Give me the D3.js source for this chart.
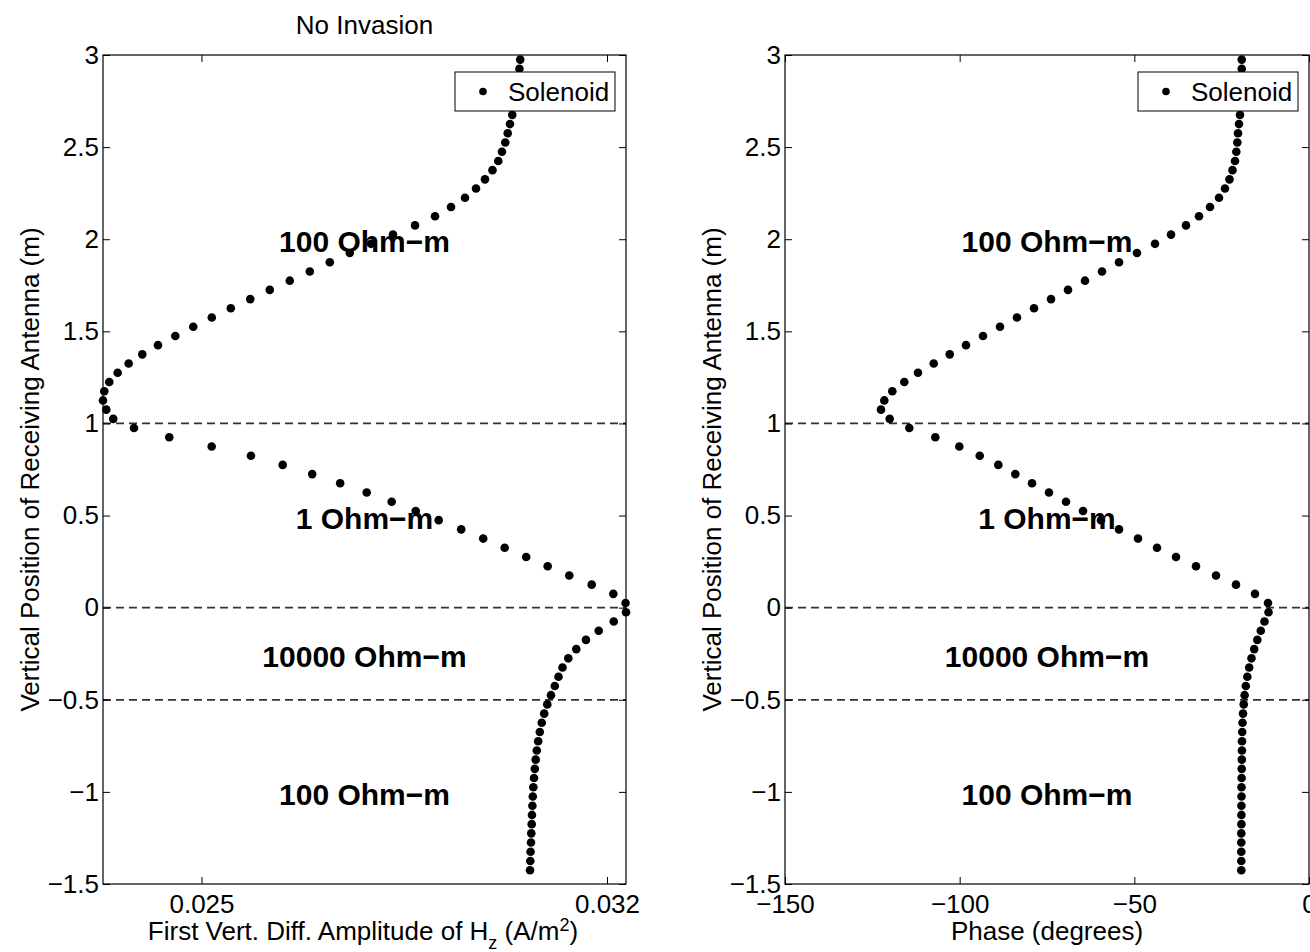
<!DOCTYPE html>
<html>
<head>
<meta charset="utf-8">
<script src="https://cdn.jsdelivr.net/npm/d3@7"></script>
<style>
    body { margin: 0; background: #fff; }
    text { font-family: "Liberation Sans", Arial, Helvetica, sans-serif; }
</style>
</head>
<body>
<svg width="1310" height="952"></svg>
<script>
"use strict";

// receiver positions (m), same for both panels
var position = [
    -1.425, -1.375, -1.325, -1.275, -1.225, -1.175, -1.125, -1.075, -1.025, -0.975,
    -0.925, -0.875, -0.825, -0.775, -0.725, -0.675, -0.625, -0.575, -0.525, -0.475,
    -0.425, -0.375, -0.325, -0.275, -0.225, -0.175, -0.125, -0.075, -0.025, 0.025,
    0.075, 0.125, 0.175, 0.225, 0.275, 0.325, 0.375, 0.425, 0.475, 0.525,
    0.575, 0.625, 0.675, 0.725, 0.775, 0.825, 0.875, 0.925, 0.975, 1.025,
    1.075, 1.125, 1.175, 1.225, 1.275, 1.325, 1.375, 1.425, 1.475, 1.525,
    1.575, 1.625, 1.675, 1.725, 1.775, 1.825, 1.875, 1.925, 1.975, 2.025,
    2.075, 2.125, 2.175, 2.225, 2.275, 2.325, 2.375, 2.425, 2.475, 2.525,
    2.575, 2.625, 2.675, 2.725, 2.775, 2.825, 2.875, 2.925, 2.975
];

// first vertical difference amplitude of Hz (A/m^2)
var amplitude = [
    0.030671, 0.030676, 0.030681, 0.030688, 0.030693, 0.030700, 0.030705, 0.030712, 0.030719, 0.030728,
    0.030740, 0.030754, 0.030769, 0.030788, 0.030812, 0.030840, 0.030874, 0.030916, 0.030969, 0.031033,
    0.031099, 0.031163, 0.031232, 0.031332, 0.031470, 0.031637, 0.031857, 0.032116, 0.032328, 0.032320,
    0.032109, 0.031736, 0.031349, 0.030976, 0.030605, 0.030234, 0.029863, 0.029483, 0.029095, 0.028698,
    0.028283, 0.027852, 0.027394, 0.026911, 0.026402, 0.025854, 0.025176, 0.024444, 0.023835, 0.023477,
    0.023357, 0.023300, 0.023322, 0.023408, 0.023553, 0.023743, 0.023978, 0.024249, 0.024548, 0.024858,
    0.025178, 0.025506, 0.025842, 0.026179, 0.026524, 0.026870, 0.027215, 0.027560, 0.027926, 0.028306,
    0.028686, 0.029031, 0.029307, 0.029549, 0.029739, 0.029894, 0.030023, 0.030123, 0.030187, 0.030244,
    0.030286, 0.030325, 0.030365, 0.030400, 0.030429, 0.030453, 0.030472, 0.030488, 0.030502
];

// phase (degrees)
var phase = [
    -19.38, -19.38, -19.38, -19.38, -19.38, -19.35, -19.35, -19.35, -19.32, -19.32,
    -19.29, -19.26, -19.23, -19.20, -19.18, -19.12, -19.03, -18.89, -18.69, -18.43,
    -18.09, -17.66, -17.12, -16.46, -15.69, -14.80, -13.80, -12.74, -11.59, -11.74,
    -15.46, -20.90, -26.62, -32.35, -38.07, -43.51, -48.95, -54.39, -59.54, -64.69,
    -69.56, -74.43, -79.29, -84.07, -88.94, -94.26, -100.10, -106.98, -114.42, -120.03,
    -122.52, -121.57, -119.28, -115.85, -111.93, -107.43, -102.85, -98.19, -93.32, -88.45,
    -83.59, -78.72, -73.85, -68.99, -64.12, -59.25, -54.39, -49.24, -44.08, -39.50,
    -35.21, -31.49, -28.34, -25.76, -24.05, -22.76, -21.90, -21.18, -20.81, -20.52,
    -20.32, -20.04, -19.75, -19.61, -19.47, -19.38, -19.32, -19.26, -19.26
];

var yTicks = [-1.5, -1, -0.5, 0, 0.5, 1, 1.5, 2, 2.5, 3];
var ampTicks = [0.025, 0.032];
var phaseTicks = [-150, -100, -50, 0];
var boundaries = [1, 0, -0.5];
var layerNames = ["100 Ohm\u2212m", "1 Ohm\u2212m", "10000 Ohm\u2212m", "100 Ohm\u2212m"];
var layerAt = [2, 0.5, -0.25, -1];

var svg = d3.select("svg"),
    top0 = 55,
    bottom0 = 884,
    tick = 7,
    fontSize = 26;

var y = d3.scaleLinear().domain([-1.5, 3]).range([bottom0, top0]);

function minus(v) { return String(v).replace("-", "\u2212"); }

function panel(left, right, xDomain, xTicks, xFormat, values) {
    var x = d3.scaleLinear().domain(xDomain).range([left, right]);
    var g = svg.append("g");

    // layer boundaries
    g.selectAll("line.bound")
        .data(boundaries)
        .enter().append("line")
        .attr("class", "bound")
        .attr("x1", left).attr("x2", right)
        .attr("y1", function(d) { return y(d); })
        .attr("y2", function(d) { return y(d); })
        .attr("stroke", "#333")
        .attr("stroke-width", 1.7)
        .attr("stroke-dasharray", "8,5");

    g.selectAll("circle.pt")
        .data(values)
        .enter().append("circle")
        .attr("class", "pt")
        .attr("cx", function(d) { return x(d); })
        .attr("cy", function(d, i) { return y(position[i]); })
        .attr("r", 4.3)
        .attr("fill", "#000");

    // layer names
    g.selectAll("text.layer")
        .data(layerNames)
        .enter().append("text")
        .attr("class", "layer")
        .attr("x", (left + right) / 2)
        .attr("y", function(d, i) { return y(layerAt[i]) + 13; })
        .attr("text-anchor", "middle")
        .attr("font-size", 30)
        .attr("font-weight", "bold")
        .text(function(d) { return d; });

    // legend
    var lx = right - 11 - 160;
    var legend = g.append("g");
    legend.append("rect")
        .attr("x", lx).attr("y", 72)
        .attr("width", 160).attr("height", 39)
        .attr("fill", "#fff")
        .attr("stroke", "#000");
    legend.append("circle")
        .attr("cx", lx + 28).attr("cy", 91.5)
        .attr("r", 3.8)
        .attr("fill", "#000");
    legend.append("text")
        .attr("x", lx + 53).attr("y", 101)
        .attr("font-size", fontSize)
        .text("Solenoid");

    // axes, ticks pointing inward
    var bottom = g.append("g")
        .attr("transform", "translate(0," + bottom0 + ")")
        .call(d3.axisBottom(x).tickValues(xTicks).tickFormat(xFormat)
            .tickSizeInner(-tick).tickSizeOuter(0).tickPadding(11));
    var topAx = g.append("g")
        .attr("transform", "translate(0," + top0 + ")")
        .call(d3.axisTop(x).tickValues(xTicks).tickFormat("")
            .tickSizeInner(-tick).tickSizeOuter(0));
    var leftAx = g.append("g")
        .attr("transform", "translate(" + left + ",0)")
        .call(d3.axisLeft(y).tickValues(yTicks).tickFormat(minus)
            .tickSizeInner(-tick).tickSizeOuter(0).tickPadding(4));
    var rightAx = g.append("g")
        .attr("transform", "translate(" + right + ",0)")
        .call(d3.axisRight(y).tickValues(yTicks).tickFormat("")
            .tickSizeInner(-tick).tickSizeOuter(0));

    [bottom, topAx, leftAx, rightAx].forEach(function(a) {
        a.select(".domain").remove();
        a.selectAll("text")
            .attr("font-size", fontSize)
            .attr("font-family", "Liberation Sans, Arial, sans-serif")
            .attr("fill", "#000");
        a.selectAll("line").attr("stroke", "#000");
    });

    g.append("rect")
        .attr("x", left).attr("y", top0)
        .attr("width", right - left).attr("height", bottom0 - top0)
        .attr("fill", "none")
        .attr("stroke", "#000")
        .attr("stroke-width", 1.2);

    // y label
    g.append("text")
        .attr("transform", "translate(" + (left - 64) + "," + ((top0 + bottom0) / 2) + ") rotate(-90)")
        .attr("text-anchor", "middle")
        .attr("font-size", fontSize)
        .text("Vertical Position of Receiving Antenna (m)");

    return g;
}

var leftPanel = panel(103, 626, d3.extent(amplitude), ampTicks, d3.format(".3f"), amplitude);
var rightPanel = panel(785, 1309, [-150, 0], phaseTicks, minus, phase);

svg.append("text")
    .attr("x", 364.5).attr("y", 34)
    .attr("text-anchor", "middle")
    .attr("font-size", fontSize)
    .text("No Invasion");

var xl = svg.append("text")
    .attr("x", 363).attr("y", 940)
    .attr("text-anchor", "middle")
    .attr("font-size", fontSize);
xl.append("tspan").text("First Vert. Diff. Amplitude of H");
xl.append("tspan").attr("dy", 9).attr("font-size", 18).text("z");
xl.append("tspan").attr("dy", -9).text(" (A/m");
xl.append("tspan").attr("dy", -9).attr("font-size", 18).text("2");
xl.append("tspan").attr("dy", 9).text(")");

svg.append("text")
    .attr("x", 1047).attr("y", 940)
    .attr("text-anchor", "middle")
    .attr("font-size", fontSize)
    .text("Phase (degrees)");
</script>
</body>
</html>
